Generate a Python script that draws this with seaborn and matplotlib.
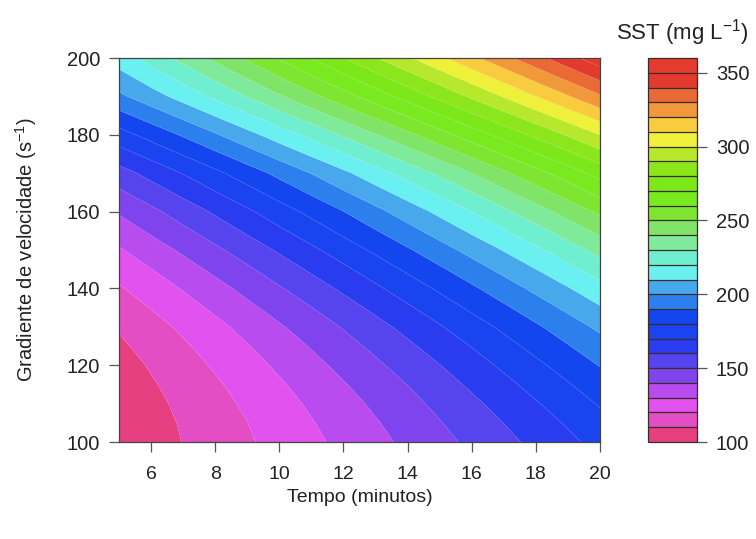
import numpy as np
import matplotlib
matplotlib.use("Agg")
import matplotlib.pyplot as plt
from matplotlib.colors import ListedColormap, BoundaryNorm
import seaborn as sns

# ---- data ----
tempo = [5, 6, 7, 8, 9, 10, 11, 12, 13, 14, 15, 16, 17, 18, 19, 20]          # minutos
gradiente = [100, 105, 110, 115, 120, 125, 130, 135, 140, 145, 150,
             160, 170, 180, 190, 200]                                         # s^-1
# SST (mg/L): one row per gradiente value, one column per tempo value
sst = [
    [102.0, 106.1, 110.2, 114.5, 118.8, 123.3, 127.8, 132.5, 137.2, 142.1, 147.0, 152.1, 157.2, 162.5, 167.8, 173.3],
    [102.3, 106.5, 110.9, 115.4, 119.9, 124.6, 129.4, 134.2, 139.2, 144.3, 149.5, 154.7, 160.1, 165.6, 171.1, 176.8],
    [103.0, 107.5, 112.1, 116.8, 121.6, 126.5, 131.4, 136.5, 141.7, 147.0, 152.4, 157.9, 163.5, 169.2, 175.0, 180.9],
    [104.3, 109.0, 113.8, 118.7, 123.7, 128.8, 134.0, 139.3, 144.7, 150.2, 155.9, 161.6, 167.4, 173.3, 179.3, 185.4],
    [106.0, 110.9, 116.0, 121.1, 126.3, 131.7, 137.1, 142.6, 148.2, 154.0, 159.8, 165.7, 171.8, 177.9, 184.1, 190.5],
    [108.3, 113.4, 118.7, 124.0, 129.5, 135.0, 140.7, 146.4, 152.3, 158.2, 164.3, 170.4, 176.7, 183.0, 189.5, 196.0],
    [111.0, 116.4, 121.8, 127.4, 133.1, 138.9, 144.7, 150.7, 156.8, 162.9, 169.2, 175.6, 182.0, 188.6, 195.3, 202.1],
    [114.8, 120.4, 126.1, 131.9, 137.8, 143.8, 149.8, 156.0, 162.3, 168.7, 175.2, 181.8, 188.5, 195.3, 202.2, 209.2],
    [119.0, 124.8, 130.7, 136.7, 142.8, 149.1, 155.4, 161.8, 168.3, 174.9, 181.6, 188.4, 195.3, 202.3, 209.4, 216.7],
    [123.8, 129.8, 136.0, 142.2, 148.5, 155.0, 161.5, 168.1, 174.8, 181.7, 188.6, 195.6, 202.8, 210.0, 217.3, 224.8],
    [129.0, 135.3, 141.6, 148.1, 154.6, 161.3, 168.0, 174.9, 181.8, 188.9, 196.0, 203.3, 210.6, 218.1, 225.6, 233.3],
    [141.0, 147.7, 154.5, 161.4, 168.4, 175.5, 182.6, 189.9, 197.3, 204.8, 212.4, 220.1, 227.9, 235.8, 243.8, 251.9],
    [156.0, 163.1, 170.4, 177.7, 185.1, 192.7, 200.3, 208.0, 215.8, 223.8, 231.8, 239.9, 248.2, 256.5, 264.9, 273.5],
    [176.0, 183.6, 191.2, 199.0, 206.9, 214.9, 222.9, 231.1, 239.4, 247.7, 256.2, 264.8, 273.4, 282.2, 291.1, 300.1],
    [198.0, 205.8, 213.8, 222.0, 230.3, 238.9, 247.5, 256.2, 264.9, 273.7, 282.6, 291.6, 300.7, 309.9, 319.2, 328.7],
    [215.0, 224.0, 233.0, 242.2, 251.4, 260.8, 270.2, 279.8, 289.4, 298.7, 308.0, 317.5, 327.0, 336.7, 346.4, 356.3],
]
levels = list(range(100, 370, 10))
x_ticks = [6, 8, 10, 12, 14, 16, 18, 20]
y_ticks = [100, 120, 140, 160, 180, 200]
cbar_ticks = [100, 150, 200, 250, 300, 350]

band_colors = ['#E64080', '#E44EC4', '#E252EE', '#B84CEE', '#8044EE', '#5644EE',
               '#2A3CF0', '#1A44F0', '#1446F0', '#2C80EE', '#48A8EC', '#6AF0F0',
               '#70EED0', '#7EEA9A', '#80E468', '#7EE630', '#7AEA20', '#7CE81A',
               '#8CE61C', '#B8E82C', '#EEF03A', '#F8CC3E', '#F0983A', '#EA6A36',
               '#E33A30', '#E53B2F']

# ---- style ----
sns.set_theme(style="white")
plt.rcParams['font.family'] = ['Liberation Sans', 'DejaVu Sans']
plt.rcParams['mathtext.default'] = 'regular'

cmap = ListedColormap(band_colors)
norm = BoundaryNorm(levels, cmap.N)

fig = plt.figure(figsize=(7.56, 5.39), dpi=100)
ax = fig.add_axes([119 / 756, 97 / 539, 481 / 756, 384 / 539])
cax = fig.add_axes([648 / 756, 97 / 539, 49 / 756, 384 / 539])

T, G = np.meshgrid(np.array(tempo), np.array(gradiente))
Z = np.array(sst)
cf = ax.contourf(T, G, Z, levels=levels, cmap=cmap, norm=norm, antialiased=True)

ax.set_xlim(5, 20)
ax.set_ylim(100, 200)
ax.set_xticks(x_ticks)
ax.set_yticks(y_ticks)
ax.tick_params(axis='both', which='major', direction='out', length=7.5, width=0.9,
               color='#555555', labelcolor='#222222', pad=6,
               bottom=True, left=True)
ax.tick_params(axis='x', labelsize=14, pad=9.5)
ax.tick_params(axis='y', labelsize=14.5)
for sp in ax.spines.values():
    sp.set_color('#444444')
    sp.set_linewidth(0.9)

ax.set_xlabel('Tempo (minutos)', fontsize=14, color='#222222')
ax.xaxis.set_label_coords(0.5, (442 - 498) / 384)
ax.xaxis.label.set_va('center')
ax.set_ylabel('Gradiente de velocidade (s$^{-1}$)', fontsize=14.5, color='#222222')
ax.yaxis.set_label_coords((26 - 119) / 481, 0.5)
ax.yaxis.label.set_va('center')

cb = fig.colorbar(cf, cax=cax, ticks=cbar_ticks, drawedges=True)
cb.minorticks_off()
cb.dividers.set_color('#3a2a2a')
cb.dividers.set_linewidth(0.9)
cb.outline.set_edgecolor('#3a2a2a')
cb.outline.set_linewidth(0.9)
cax.tick_params(which='major', direction='out', length=7.5, width=0.9, color='#555555',
                labelsize=14.5, labelcolor='#222222', pad=6, right=True)
cax.tick_params(which='minor', length=0)

fig.text(682 / 756, 1 - 33 / 539, 'SST (mg L$^{-1}$)', ha='center', va='center',
         fontsize=16, color='#222222')

fig.savefig('out.png', dpi=100, facecolor='white')
